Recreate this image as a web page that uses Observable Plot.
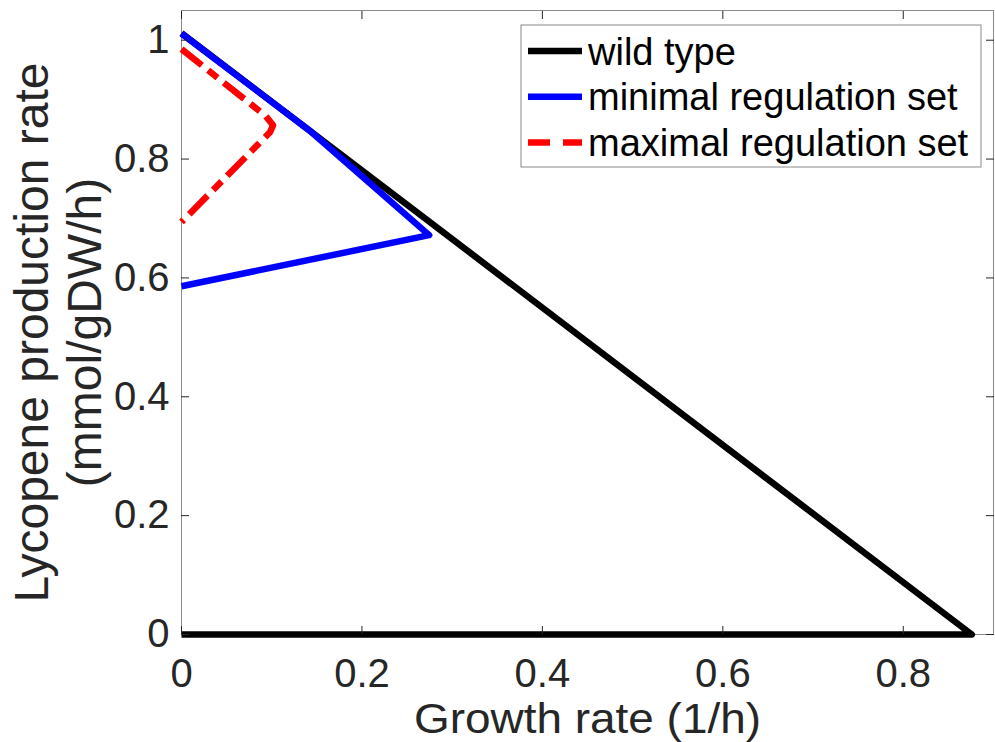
<!DOCTYPE html>
<html>
<head>
<meta charset="utf-8">
<script src="https://cdn.jsdelivr.net/npm/d3@7"></script>
<script src="https://cdn.jsdelivr.net/npm/@observablehq/plot@0.6"></script>
<style>
  html, body { margin: 0; padding: 0; background: #ffffff; }
  #chart { width: 995px; height: 742px; }
</style>
</head>
<body>
<div id="chart"></div>
<script>
// ---- data ----
const seriesNames = ["wild type", "minimal regulation set", "maximal regulation set"];
const seriesColors = ["#000000", "#0000ff", "#ff0000"];

const wildTypeX = [0, 0.876, 0];
const wildTypeY = [1.012, 0, 0];

const minimalX = [0, 0.142, 0.2745, 0];
const minimalY = [1.011, 0.848, 0.672, 0.586];

const maximalX = [0, 0.093, 0.1015, 0.098, 0];
const maximalY = [0.985, 0.873, 0.857, 0.845, 0.694];

const xTicks = [0, 0.2, 0.4, 0.6, 0.8];
const yTicks = [0, 0.2, 0.4, 0.6, 0.8, 1];
const xLabel = "Growth rate (1/h)";
const yLabelLines = ["Lycopene production rate", "(mmol/gDW/h)"];

// ---- build tables ----
const rows = (name, xs, ys) => xs.map((x, i) => ({series: name, x, y: ys[i]}));
const wild = rows(seriesNames[0], wildTypeX, wildTypeY);
const minimal = rows(seriesNames[1], minimalX, minimalY);
const maximal = rows(seriesNames[2], maximalX, maximalY);

const fmt = d => String(d);
const ink = "#262626";
const font = "'Liberation Sans', Arial, Helvetica, sans-serif";
const dashes = ["none", "none", "26,8,12,8"];
const lw = 6.5;

const svg = Plot.plot({
  width: 995,
  height: 742,
  marginLeft: 181,
  marginRight: 2,
  marginTop: 10,
  marginBottom: 108,
  style: {fontFamily: font, background: "#ffffff", color: ink},
  x: {domain: [0, 0.9]},
  y: {domain: [0, 1.05]},
  marks: [
    Plot.frame({stroke: "#8a8a8a", strokeWidth: 1}),
    Plot.line(wild, {x: "x", y: "y", stroke: seriesColors[0], strokeWidth: lw, strokeLinejoin: "round", strokeLinecap: "butt"}),
    Plot.line(minimal, {x: "x", y: "y", stroke: seriesColors[1], strokeWidth: lw, strokeLinejoin: "round", strokeLinecap: "butt"}),
    Plot.line(maximal, {x: "x", y: "y", stroke: seriesColors[2], strokeWidth: lw, strokeLinejoin: "round", strokeLinecap: "butt", strokeDasharray: dashes[2]}),
    Plot.axisX(xTicks, {anchor: "bottom", tickSize: -8, tickPadding: 32, tickFormat: fmt, fontSize: 40, stroke: ink, fill: ink, label: null}),
    Plot.axisX(xTicks, {anchor: "top", tickSize: -8, fill: "none", stroke: ink, label: null}),
    Plot.axisY(yTicks, {anchor: "left", tickSize: -8, tickPadding: 20, tickFormat: fmt, fontSize: 40, stroke: ink, fill: ink, label: null}),
    Plot.axisY(yTicks, {anchor: "right", tickSize: -8, fill: "none", stroke: ink, label: null}),
    Plot.text([xLabel], {text: d => d, frameAnchor: "bottom", textAnchor: "middle", dy: 98, lineAnchor: "bottom", fontSize: 43, fill: ink}),
    Plot.text([yLabelLines[0]], {text: d => d, frameAnchor: "left", textAnchor: "middle", rotate: -90, dx: -134, dy: 10, lineAnchor: "bottom", fontSize: 48, fill: ink}),
    Plot.text([yLabelLines[1]], {text: d => d, frameAnchor: "left", textAnchor: "middle", rotate: -90, dx: -81, dy: 10, lineAnchor: "bottom", fontSize: 48, fill: ink})
  ]
});

// stretch x label to the reference width
d3.select(svg).selectAll("text").filter(function () { return this.textContent === xLabel; })
  .attr("textLength", 347).attr("lengthAdjust", "spacingAndGlyphs");

// ---- legend inside the axes (top-right) ----
const lg = d3.select(svg).append("g").attr("font-family", font).attr("font-size", 38)
  .attr("fill", "#000").attr("text-anchor", "start");
lg.append("rect").attr("x", 521).attr("y", 25).attr("width", 460).attr("height", 142)
  .attr("fill", "#ffffff").attr("stroke", "#8a8a8a").attr("stroke-width", 1);
seriesNames.forEach((name, i) => {
  const cy = 51 + i * 45.8;
  lg.append("line").attr("x1", 528).attr("x2", 582).attr("y1", cy).attr("y2", cy)
    .attr("stroke", seriesColors[i]).attr("stroke-width", lw)
    .attr("stroke-dasharray", dashes[i] === "none" ? null : "22,13");
  lg.append("text").attr("x", 588).attr("y", cy + 13.5).attr("text-anchor", "start").text(name);
});

document.getElementById("chart").appendChild(svg);
</script>
</body>
</html>
